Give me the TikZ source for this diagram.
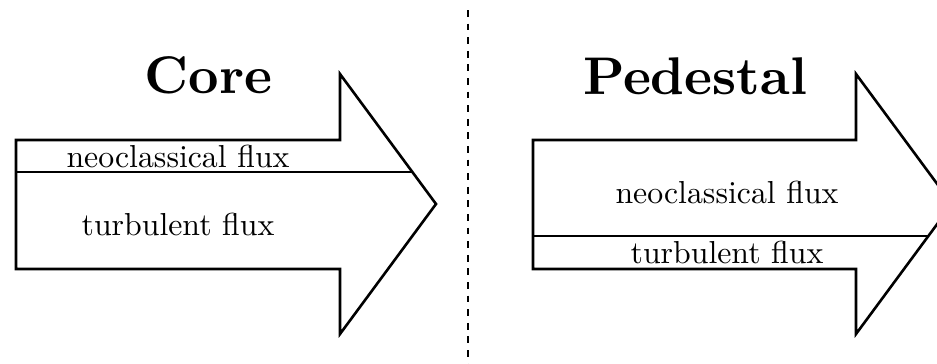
\documentclass[tikz,border=0pt]{standalone}
\usepackage{fontspec}
\newfontfamily\lmten{lmroman10-regular}[Extension=.otf, BoldFont=lmroman10-bold]
\begin{document}
\begin{tikzpicture}[x=1pt,y=-1pt,
  outline/.style={line width=2.6pt, line join=miter},
  title/.style={font=\lmten\fontsize{53}{60}\selectfont\bfseries, anchor=base, inner sep=0pt},
  label/.style={font=\lmten\fontsize{31.8}{38}\selectfont, anchor=base, inner sep=0pt},
  divider/.style={line width=2.7pt, dash pattern=on 6.8pt off 6.8pt}]
\clip (0,0) rectangle (937,364);
\fill[white] (0,0) rectangle (937,364);
% left arrow
\draw[outline] (16,140) -- (340,140) -- (340,74) -- (436,204) -- (340,334) -- (340,269) -- (16,269) -- cycle;
\draw[outline] (16,172) -- (412.4,172);
% right arrow
\draw[outline] (533,140) -- (856,140) -- (856,74) -- (952,204) -- (856,334) -- (856,269) -- (533,269) -- cycle;
\draw[outline] (533,236) -- (928.6,236);
% divider
\coordinate (dtop) at (468,10);
\coordinate (dbot) at (468,364);
\draw[divider] (dtop) -- (dbot);
% texts
\node[title] (core) at (208.5,93) {Core};
\node[title] (ped) at (695,94) {Pedestal};
\node[label] (lneo) at (178,167) {neoclassical flux};
\node[label] (lturb) at (178,235) {turbulent flux};
\node[label] (rneo) at (727,203) {neoclassical flux};
\node[label] (rturb) at (727,263) {turbulent flux};
\end{tikzpicture}
\end{document}
